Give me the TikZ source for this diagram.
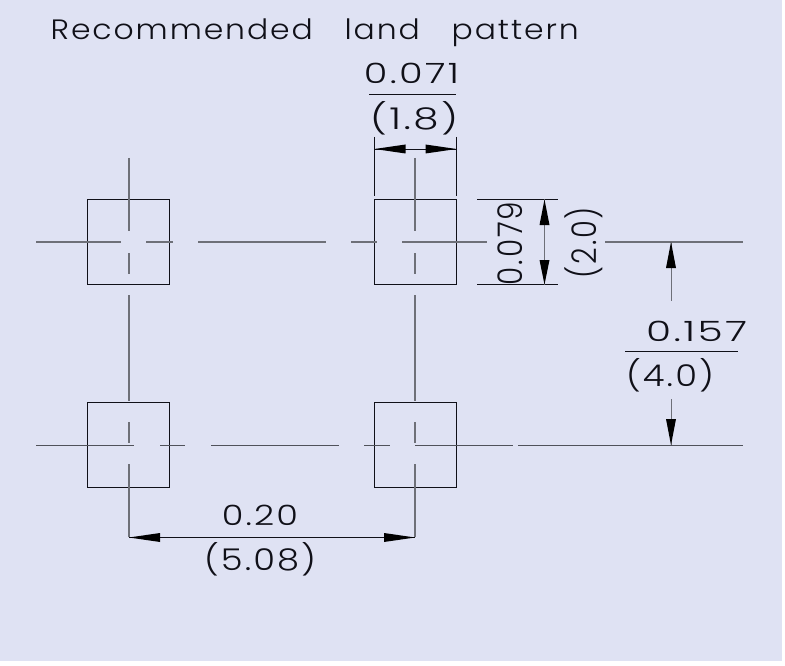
\documentclass[tikz,border=0pt]{standalone}
\usepackage{fontspec}
\usepackage{graphicx}
\setmainfont{Poppins}[UprightFont=* Light,LetterSpace=6]
\definecolor{bgc}{HTML}{DFE2F3}
\definecolor{clc}{HTML}{6E7078}
\definecolor{cld}{HTML}{50525A}
\definecolor{inkc}{HTML}{101018}
\tikzset{
  x=1pt,y=-1pt,
  padbox/.style={draw=inkc,line width=.9pt,minimum width=82pt,minimum height=85pt,inner sep=0pt,outer sep=0pt},
  cline/.style={draw=clc,line width=1.2pt},
  clinelow/.style={draw=cld,line width=1pt},
  dimline/.style={draw=inkc,line width=.8pt},
  shaft/.style={draw=clc,line width=1pt},
  lab/.style={inner sep=0pt,font=\fontsize{28}{28}\selectfont,text=inkc},
  labtall/.style={lab,rotate=90,font=\fontsize{34}{34}\selectfont},
  labparen/.style={lab,font=\fontsize{30}{30}\selectfont},
}
\newcommand{\fitw}[2]{\resizebox{#1pt}{\height}{#2}}
\newcommand{\harrow}[3]{\fill[black] (#1,#3) -- (#2,#3-4.5) -- (#2,#3+4.5) -- cycle;}
\newcommand{\varrow}[3]{\fill[black] (#3,#1) -- (#3-5,#2) -- (#3+5,#2) -- cycle;}
\begin{document}
\begin{tikzpicture}
\useasboundingbox (0,0) rectangle (785,666);
\fill[white] (0,0) rectangle (785,666);
\fill[bgc] (0,0) rectangle (782,661);
% pads
\node[padbox] (p1) at (128.5,242) {};
\node[padbox] (p2) at (415.5,242) {};
\node[padbox] (p3) at (128.5,445) {};
\node[padbox] (p4) at (415.5,445) {};
% centre lines, upper row
\draw[cline] (36,242)--(121,242) (146,242)--(172.5,242) (198,242)--(326,242) (351,242)--(377,242) (402,242)--(487,242) (605,242)--(743,242);
% centre lines, lower row
\draw[clinelow] (36,445)--(134,445) (160,445)--(185,445) (211,445)--(339,445) (364,445)--(390,445) (415,445)--(513,445) (518,445)--(743,445);
% vertical centre lines
\foreach \x in {129,415}{
  \draw[cline] (\x,158)--(\x,231) (\x,253)--(\x,274) (\x,295)--(\x,401) (\x,422)--(\x,443) (\x,464)--(\x,537);
}
% width dimension
\draw[dimline] (374.5,137)--(374.5,196) (456.5,137)--(456.5,196);
\draw[dimline] (374.5,149)--(456.5,149);
\harrow{374.5}{405.5}{149}
\harrow{456.5}{425.5}{149}
\draw[dimline] (369,94.5)--(456,94.5);
\node[lab] (w1) at (411.5,73) {\fitw{95}{0.071}};
\node[labparen] (w2) at (414,118) {\fitw{88}{(1.8)}};
% height dimension
\draw[dimline] (477,199.5)--(558,199.5) (477,284.5)--(558,284.5);
\draw[shaft] (544.5,199.5)--(544.5,284.5);
\varrow{199.5}{225}{544.5}
\varrow{284.5}{260}{544.5}
\node[labtall] (h1) at (510,243.5) {\fitw{83}{0.079}};
\node[labtall] (h2) at (584,242.5) {\fitw{71}{(2.0)}};
% pitch dimension, vertical
\draw[shaft] (671,242)--(671,301) (671,399)--(671,445);
\varrow{242}{268}{671}
\varrow{445}{419}{671}
\draw[dimline] (625,351.5)--(738,351.5);
\node[lab] (v1) at (696.5,331.5) {\fitw{101}{0.157}};
\node[labparen] (v2) at (670,375) {\fitw{88}{(4.0)}};
% pitch dimension, horizontal
\draw[dimline] (129,537.5)--(415,537.5);
\harrow{129}{160}{537.5}
\harrow{415}{384}{537.5}
\node[lab] (b1) at (260,515) {\fitw{76}{0.20}};
\node[labparen] (b2) at (260,559) {\fitw{112}{(5.08)}};
% title
\node[lab,anchor=west] (title) at (50.5,33) {\fitw{528}{Recommended\hspace{19pt} land\hspace{19pt} pattern}};
\end{tikzpicture}
\end{document}
